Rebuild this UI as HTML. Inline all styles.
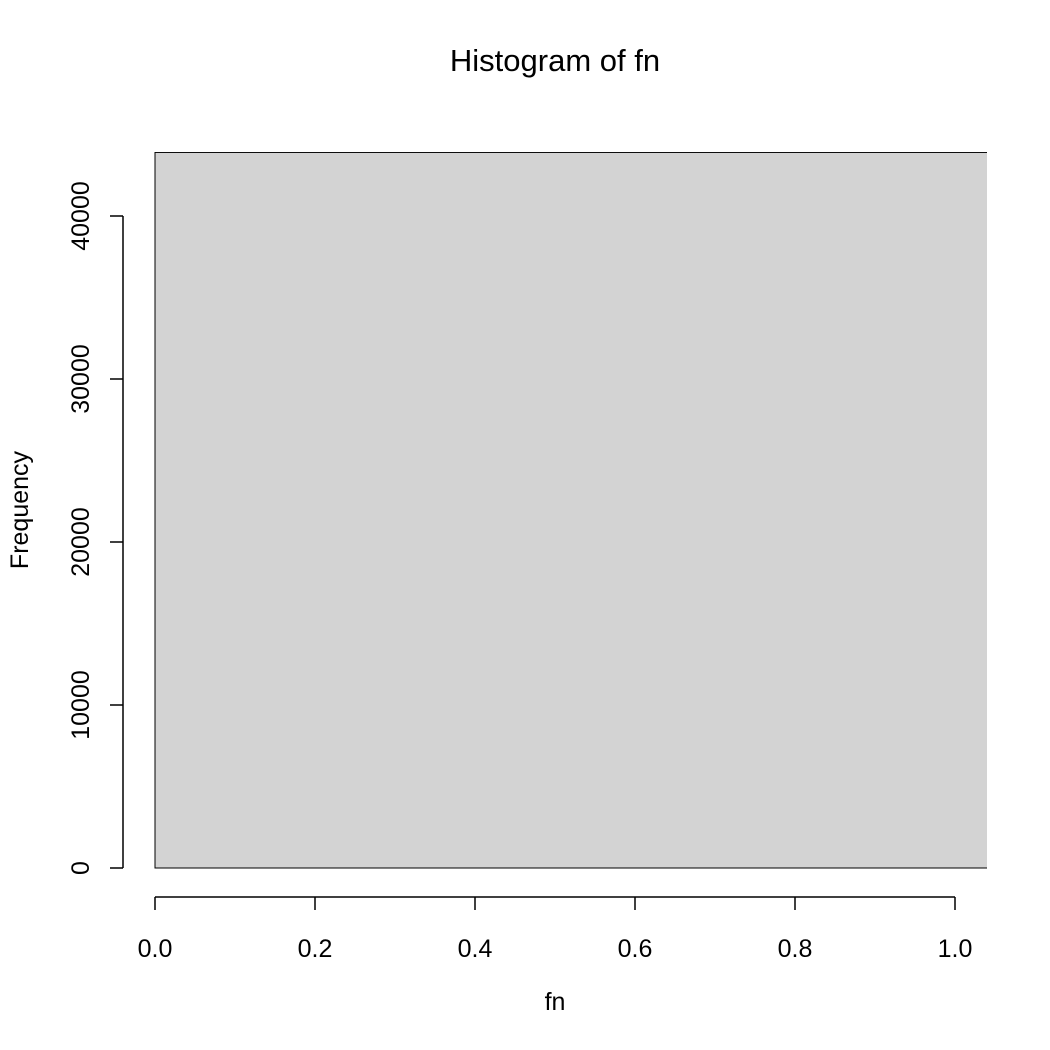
<!DOCTYPE html>
<html><head><meta charset="utf-8"><style>
html,body{margin:0;padding:0;background:#fff;}
svg{display:block;font-family:"Liberation Sans",Arial,sans-serif;}
</style></head><body>
<svg id="chart" width="1050" height="1050" viewBox="0 0 1050 1050">
<defs><clipPath id="plotclip"><rect x="0" y="152" width="987" height="750"/></clipPath></defs>
<text x="555" y="71" text-anchor="middle" font-size="31">Histogram of fn</text>
<g id="bars" clip-path="url(#plotclip)"></g>
<g id="xaxis"></g>
<g id="yaxis"></g>
<text x="555" y="1010" text-anchor="middle" font-size="25">fn</text>
<text transform="translate(28,510) rotate(-90)" text-anchor="middle" font-size="25">Frequency</text>
</svg>
<script>
const binStarts = [0];
const binEnds = [1.2];
const counts = [43900];
const xTicks = [0, 0.2, 0.4, 0.6, 0.8, 1.0];
const xTickLabels = ["0.0", "0.2", "0.4", "0.6", "0.8", "1.0"];
const yTicks = [0, 10000, 20000, 30000, 40000];
const yTickLabels = ["0", "10000", "20000", "30000", "40000"];

const NS = "http://www.w3.org/2000/svg";
function xs(v){ return 155 + v * 800; }
function ys(v){ return 868 - v * (652 / 40000); }
function mk(tag, attrs, parent){
  const e = document.createElementNS(NS, tag);
  for (const k in attrs) e.setAttribute(k, attrs[k]);
  parent.appendChild(e);
  return e;
}
const bars = document.getElementById("bars");
counts.forEach((c, i) => {
  const x0 = xs(binStarts[i]), x1 = xs(binEnds[i]), y = ys(c);
  const r = mk("rect", {x: x0, y: y, width: x1 - x0, height: ys(0) - y, fill: "#d3d3d3", stroke: "#000", "stroke-width": 1}, bars);
  
  
});
const xa = document.getElementById("xaxis");
mk("line", {x1: xs(xTicks[0]), x2: xs(xTicks[xTicks.length-1]), y1: 897, y2: 897, stroke: "#000", "stroke-width": 1.5}, xa);
xTicks.forEach((t, i) => {
  mk("line", {x1: xs(t), x2: xs(t), y1: 897, y2: 910, stroke: "#000", "stroke-width": 1.5}, xa);
  const tx = mk("text", {x: xs(t), y: 957, "text-anchor": "middle", "font-size": 25}, xa);
  tx.textContent = xTickLabels[i];
  
  
});
const ya = document.getElementById("yaxis");
mk("line", {x1: 123, x2: 123, y1: ys(yTicks[0]), y2: ys(yTicks[yTicks.length-1]), stroke: "#000", "stroke-width": 1.5}, ya);
yTicks.forEach((t, i) => {
  mk("line", {x1: 110, x2: 123, y1: ys(t), y2: ys(t), stroke: "#000", "stroke-width": 1.5}, ya);
  const tx = mk("text", {transform: "translate(89," + ys(t) + ") rotate(-90)", "text-anchor": "middle", "font-size": 25}, ya);
  tx.textContent = yTickLabels[i];
  
  
});
</script>
</body></html>
